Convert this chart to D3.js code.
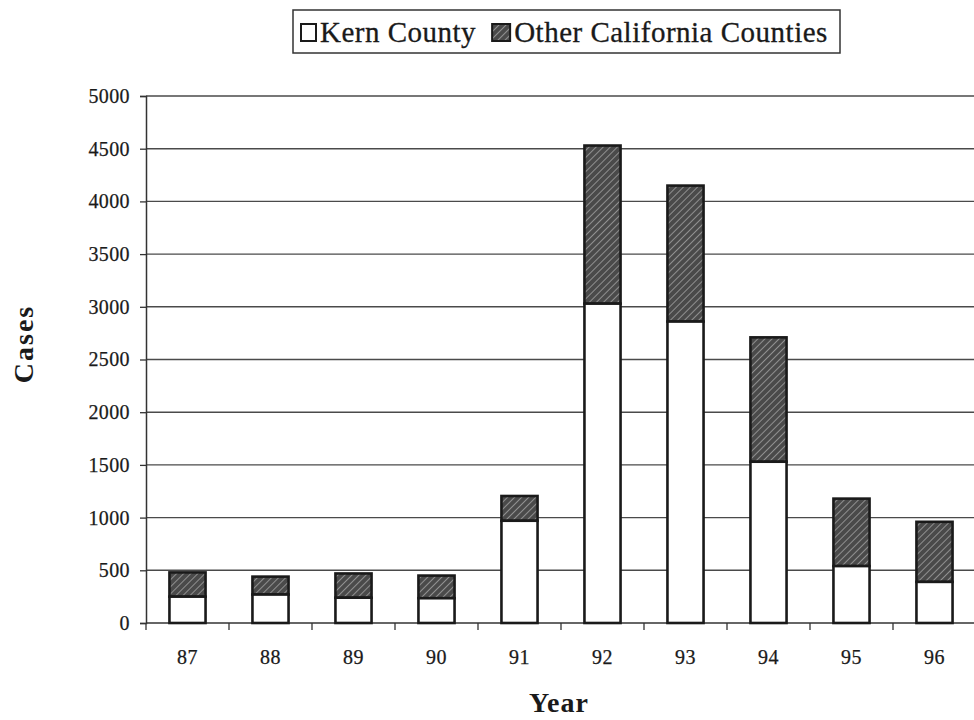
<!DOCTYPE html>
<html>
<head>
<meta charset="utf-8">
<script src="https://cdn.jsdelivr.net/npm/d3@7"></script>
<style>
  html, body { margin: 0; padding: 0; background: #ffffff; }
  svg { display: block; }
  text { font-family: "Liberation Serif", "Times New Roman", serif; fill: #1a1a1a; }
</style>
</head>
<body>
<svg id="chart" width="974" height="720"></svg>
<script>
// ---- data ----
const years = ["87", "88", "89", "90", "91", "92", "93", "94", "95", "96"];
const kernCounty = [250, 270, 240, 235, 970, 3030, 2860, 1530, 540, 390];
const otherCounties = [230, 170, 230, 215, 235, 1500, 1290, 1180, 640, 570];
const yTicks = [0, 500, 1000, 1500, 2000, 2500, 3000, 3500, 4000, 4500, 5000];
const seriesNames = ["Kern County", "Other California Counties"];
const yTitle = "Cases";
const xTitle = "Year";

(function () {
// ---- layout ----
const svg = d3.select("#chart");
const pLeft = 146, pRight = 976, pTop = 96, pBottom = 623;

const x = d3.scaleBand().domain(years).range([pLeft, pRight]).paddingInner(0.565).paddingOuter(0.2825);
const y = d3.scaleLinear().domain([0, 5000]).range([pBottom, pTop]);

// hatch pattern
const defs = svg.append("defs");
const pat = defs.append("pattern")
  .attr("id", "hatch").attr("patternUnits", "userSpaceOnUse")
  .attr("width", 5).attr("height", 5)
  .attr("patternTransform", "rotate(45)");
pat.append("rect").attr("width", 5).attr("height", 5).attr("fill", "#4a4a4a");
pat.append("line").attr("x1", 0).attr("y1", 0).attr("x2", 0).attr("y2", 5)
  .attr("stroke", "#a8a8a8").attr("stroke-width", 1.5);

// gridlines
svg.append("g").selectAll("line").data(yTicks.filter(d => d > 0)).join("line")
  .attr("x1", pLeft).attr("x2", 974)
  .attr("y1", d => y(d)).attr("y2", d => y(d))
  .attr("stroke", "#4a4a4a").attr("stroke-width", 1.4);

// y axis
const yAxis = d3.axisLeft(y).tickValues(yTicks).tickSize(6).tickPadding(10).tickFormat(d3.format("d"));
const gy = svg.append("g").attr("transform", `translate(${pLeft},0)`).call(yAxis);
gy.select(".domain").attr("stroke", "#333").attr("stroke-width", 1.5);
gy.selectAll(".tick line").attr("stroke", "#333").attr("stroke-width", 1.3);
gy.selectAll(".tick text").attr("font-size", 20).attr("letter-spacing", 0.4)
  .style("font-family", "Liberation Serif").attr("fill", "#1a1a1a")
  .attr("stroke", "#1a1a1a").attr("stroke-width", 0.25);

// x axis: ticks at band boundaries
const boundaries = years.map((d, i) => pLeft + i * x.step()).concat([pLeft + years.length * x.step()]);
svg.append("line").attr("x1", pLeft).attr("x2", 974).attr("y1", pBottom).attr("y2", pBottom)
  .attr("stroke", "#333").attr("stroke-width", 1.5);
svg.append("g").selectAll("line").data(boundaries).join("line")
  .attr("x1", d => d).attr("x2", d => d).attr("y1", pBottom).attr("y2", pBottom + 7)
  .attr("stroke", "#333").attr("stroke-width", 1.3);
svg.append("g").selectAll("text").data(years).join("text")
  .attr("x", d => x(d) + x.bandwidth() / 2)
  .attr("y", 664)
  .attr("text-anchor", "middle")
  .attr("font-size", 20).attr("letter-spacing", 0.4)
  .attr("stroke", "#1a1a1a").attr("stroke-width", 0.25)
  .text(d => d);

// bars
const stacked = years.map((yr, i) => ({ yr, k: kernCounty[i], o: otherCounties[i] }));
const bars = svg.append("g");
bars.selectAll("rect.other").data(stacked).join("rect").attr("class", "other")
  .attr("x", d => x(d.yr)).attr("width", x.bandwidth())
  .attr("y", d => y(d.k + d.o)).attr("height", d => y(d.k) - y(d.k + d.o))
  .attr("fill", "url(#hatch)").attr("stroke", "#1a1a1a").attr("stroke-width", 2.6);
bars.selectAll("rect.kern").data(stacked).join("rect").attr("class", "kern")
  .attr("x", d => x(d.yr)).attr("width", x.bandwidth())
  .attr("y", d => y(d.k)).attr("height", d => y(0) - y(d.k))
  .attr("fill", "#ffffff").attr("stroke", "#1a1a1a").attr("stroke-width", 2.6);

// axis titles
svg.append("text")
  .attr("transform", `translate(33,344) rotate(-90)`)
  .attr("text-anchor", "middle").attr("font-size", 28).attr("font-weight", "bold")
  .attr("letter-spacing", 2)
  .text(yTitle);
svg.append("text")
  .attr("x", 559).attr("y", 712)
  .attr("text-anchor", "middle").attr("font-size", 28).attr("font-weight", "bold")
  .attr("letter-spacing", 1)
  .text(xTitle);

// legend
const lg = svg.append("g");
lg.append("rect").attr("x", 293).attr("y", 10).attr("width", 547).attr("height", 43)
  .attr("fill", "#fff").attr("stroke", "#333").attr("stroke-width", 1.5);
let lx = 301;
seriesNames.forEach((name, i) => {
  const sw = i === 0 ? 15 : 18;
  lg.append("rect").attr("x", lx).attr("y", 24).attr("width", sw).attr("height", 17)
    .attr("fill", i === 0 ? "#fff" : "url(#hatch)")
    .attr("stroke", "#1a1a1a").attr("stroke-width", 2);
  const t = lg.append("text").attr("x", lx + sw + 4).attr("y", 42)
    .attr("font-size", 29).attr("letter-spacing", 0.5)
    .attr("stroke", "#1a1a1a").attr("stroke-width", 0.3)
    .text(name);
  lx = lx + sw + 4 + t.node().getComputedTextLength() + 16;
});
})();
</script>
</body>
</html>
